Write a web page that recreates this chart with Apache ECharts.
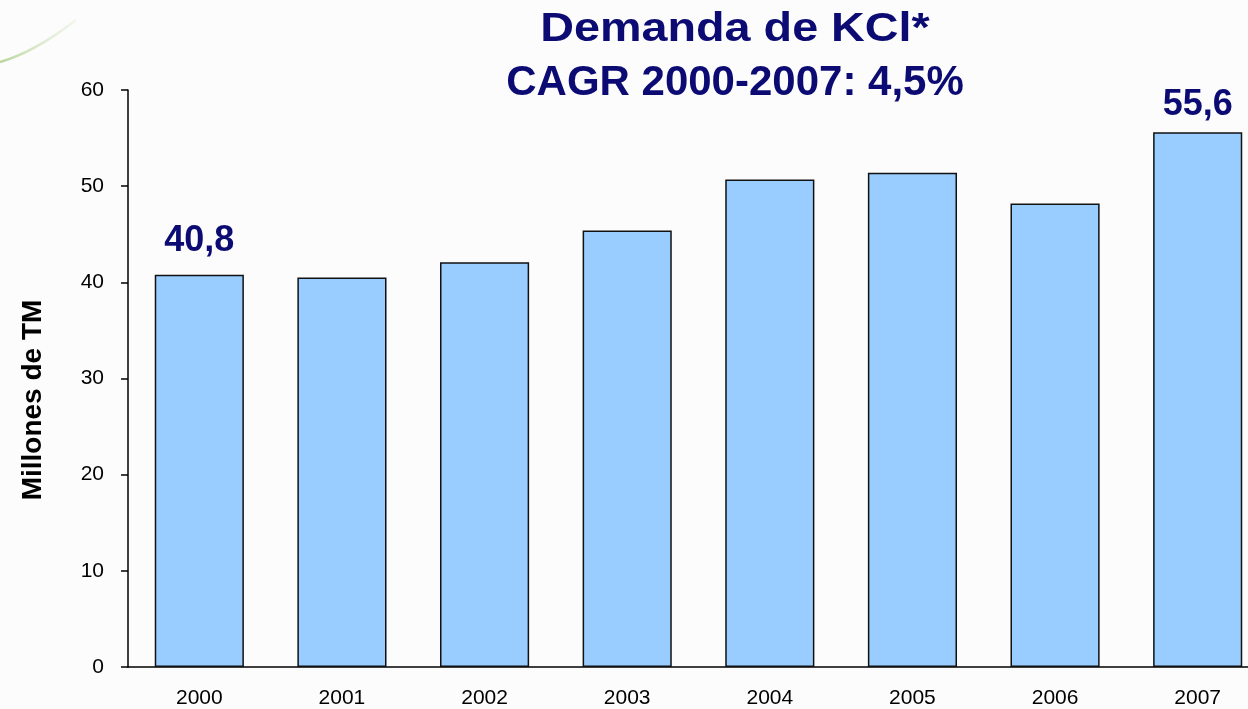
<!DOCTYPE html>
<html>
<head>
<meta charset="utf-8">
<script src="https://cdn.jsdelivr.net/npm/echarts@6/dist/echarts.min.js"></script>
<style>
  html, body { margin: 0; padding: 0; background: #fcfcfc; overflow: hidden; }
  /* the last category runs past the right edge of the slide, so the canvas is wider than the window */
  #chart { width: 1269px; height: 709px; }
</style>
</head>
<body>
<div id="chart"></div>
<script>
var years = ['2000', '2001', '2002', '2003', '2004', '2005', '2006', '2007'];
var demand = [40.8, 40.5, 42.1, 45.4, 50.7, 51.4, 48.2, 55.6];
var labelled = [0, 7];          // bars that carry a value label
var labelGap = [16, 9];         // label distance above those bars
var yTicks = { min: 0, max: 60, interval: 10 };

var navy = '#0b0b73';
var font = 'Liberation Sans, Arial, sans-serif';

var dom = document.getElementById('chart');
var myChart = echarts.init(dom);

var barData = demand.map(function (v, i) {
    var k = labelled.indexOf(i);
    if (k < 0) return v;
    return {
        value: v,
        label: {
            show: true,
            position: 'top',
            distance: labelGap[k],
            color: navy,
            fontFamily: font,
            fontWeight: 'bold',
            fontSize: 36,
            formatter: function (p) { return String(p.value).replace('.', ','); }
        }
    };
});

var option = {
    backgroundColor: '#fcfcfc',
    animation: false,
    grid: { left: 128, right: 0, top: 90, bottom: 42 },
    graphic: [
        {
            type: 'bezierCurve',
            shape: { x1: 0, y1: 62, x2: 76, y2: 20, cpx1: 28, cpy1: 54, cpx2: 58, cpy2: 34 },
            style: {
                lineWidth: 2.5, fill: null,
                stroke: new echarts.graphic.LinearGradient(0, 0, 1, 0, [
                    { offset: 0, color: 'rgba(150,195,110,0.7)' },
                    { offset: 1, color: 'rgba(190,220,160,0.15)' }
                ])
            }
        },
        {
            type: 'text', x: 735, y: 30, scaleX: 1.14,
            style: { text: 'Demanda de KCl*', align: 'center', verticalAlign: 'middle',
                     fill: navy, font: 'bold 41px ' + font }
        },
        {
            type: 'text', x: 735, y: 83,
            style: { text: 'CAGR 2000-2007: 4,5%', align: 'center', verticalAlign: 'middle',
                     fill: navy, font: 'bold 42px ' + font }
        },
        {
            type: 'text', x: 33, y: 400, rotation: Math.PI / 2,
            style: { text: 'Millones de TM', align: 'center', verticalAlign: 'middle',
                     fill: '#000', font: 'bold 28px ' + font }
        }
    ],
    xAxis: {
        type: 'category',
        data: years,
        axisLine: { lineStyle: { color: '#000', width: 1.5 } },
        axisTick: { show: false },
        axisLabel: { color: '#000', fontSize: 21, fontFamily: font, margin: 21 }
    },
    yAxis: {
        type: 'value',
        min: yTicks.min,
        max: yTicks.max,
        interval: yTicks.interval,
        axisLine: { show: true, lineStyle: { color: '#000', width: 1.5 } },
        axisTick: { show: true, length: 7, lineStyle: { color: '#000', width: 1.5 } },
        splitLine: { show: false },
        axisLabel: { color: '#000', fontSize: 21, fontFamily: font, margin: 24 }
    },
    series: [
        {
            type: 'bar',
            data: barData,
            barWidth: '62.5%',
            itemStyle: { color: '#99ccff', borderColor: '#111', borderWidth: 1.5 }
        }
    ]
};

myChart.setOption(option);
</script>
</body>
</html>
